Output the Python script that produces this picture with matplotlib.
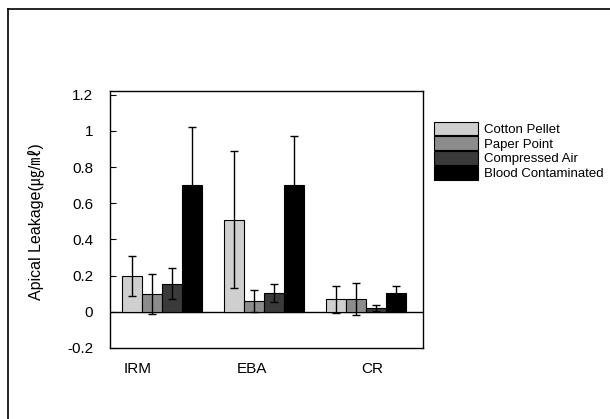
import matplotlib
matplotlib.use("Agg")
import matplotlib.pyplot as plt
from matplotlib.lines import Line2D
import numpy as np

plt.rcParams['font.family'] = ['Liberation Sans', 'Noto Sans CJK JP', 'DejaVu Sans']

groups = ['IRM', 'EBA', 'CR']
series = ['Cotton Pellet', 'Paper Point', 'Compressed Air', 'Blood Contaminated']
means = {
    'Cotton Pellet': [0.20, 0.51, 0.07],
    'Paper Point': [0.10, 0.06, 0.07],
    'Compressed Air': [0.155, 0.105, 0.02],
    'Blood Contaminated': [0.70, 0.70, 0.105],
}
errors = {
    'Cotton Pellet': [0.11, 0.38, 0.075],
    'Paper Point': [0.11, 0.06, 0.09],
    'Compressed Air': [0.085, 0.05, 0.015],
    'Blood Contaminated': [0.32, 0.27, 0.04],
}
colors = ['#cfcfcf', '#8c8c8c', '#3a3a3a', '#000000']

fig = plt.figure(figsize=(6.1, 4.19), dpi=100)
ax = fig.add_axes([0.180, 0.1695, 0.513, 0.613])

x = np.arange(len(groups))
w = 0.196
handles = []
for i, name in enumerate(series):
    pos = x + (i - 1.5) * w
    b = ax.bar(pos, means[name], width=w, color=colors[i], edgecolor='black',
               linewidth=0.8, zorder=2)
    ax.errorbar(pos, means[name], yerr=errors[name], fmt='none', ecolor='black',
                elinewidth=1.0, capsize=3, capthick=1.0, zorder=3)
    handles.append(b)

ax.axhline(0, color='black', linewidth=1.0, zorder=1)
ax.set_xlim(-0.51, 2.56)
ax.set_ylim(-0.2, 1.22)
ax.set_yticks([-0.2, 0, 0.2, 0.4, 0.6, 0.8, 1, 1.2])
ax.set_yticklabels(['-0.2', '0', '0.2', '0.4', '0.6', '0.8', '1', '1.2'])
ax.tick_params(axis='y', direction='in', length=4, labelsize=11, pad=12)
ax.set_xticks([-0.235, 0.882, 2.06])
ax.set_xticklabels(groups)
ax.tick_params(axis='x', length=0, labelsize=11, pad=10)
for s in ax.spines.values():
    s.set_linewidth(1.0)

fig.text(0.058, 0.47, 'Apical Leakage(㎍/㎖)', rotation=90, fontsize=11.5,
         ha='center', va='center')

fig.legend(handles, series, loc='upper left', bbox_to_anchor=(0.712, 0.71),
           frameon=False, fontsize=9.5, handlelength=3.3, handleheight=1.2,
           labelspacing=0.05, handletextpad=0.5, borderpad=0, borderaxespad=0)

# scan frame lines
fig.add_artist(Line2D([8 / 610, 8 / 610], [0, 1 - 9 / 419], color='black', linewidth=1.2))
fig.add_artist(Line2D([8 / 610, 1], [1 - 9 / 419, 1 - 9 / 419], color='black', linewidth=1.2))

fig.savefig('out.png', dpi=100)
